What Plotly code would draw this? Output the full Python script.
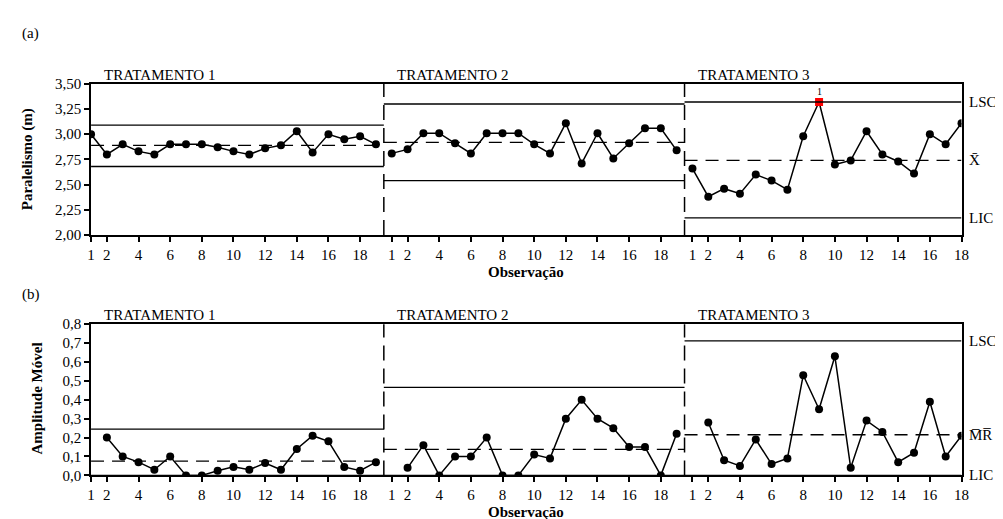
import plotly.graph_objects as go

# ---------------- data ----------------
treatments = ["TRATAMENTO 1", "TRATAMENTO 2", "TRATAMENTO 3"]
t1_par = [3.00, 2.80, 2.90, 2.83, 2.80, 2.90, 2.90, 2.90, 2.87, 2.83, 2.80, 2.86, 2.89, 3.03, 2.82, 3.00, 2.95, 2.98, 2.90]
t2_par = [2.81, 2.85, 3.01, 3.01, 2.91, 2.81, 3.01, 3.01, 3.01, 2.90, 2.81, 3.11, 2.71, 3.01, 2.76, 2.91, 3.06, 3.06, 2.84]
t3_par = [2.66, 2.38, 2.46, 2.41, 2.60, 2.54, 2.45, 2.98, 3.32, 2.70, 2.74, 3.03, 2.80, 2.73, 2.61, 3.00, 2.90, 3.11]

t1_mr = [0.20, 0.10, 0.07, 0.03, 0.10, 0.00, 0.00, 0.025, 0.045, 0.03, 0.065, 0.03, 0.14, 0.21, 0.18, 0.045, 0.025, 0.07]
t2_mr = [0.04, 0.16, 0.00, 0.10, 0.10, 0.20, 0.00, 0.00, 0.11, 0.09, 0.30, 0.40, 0.30, 0.25, 0.15, 0.15, 0.00, 0.22]
t3_mr = [0.28, 0.08, 0.05, 0.19, 0.06, 0.09, 0.53, 0.35, 0.63, 0.04, 0.29, 0.23, 0.07, 0.12, 0.39, 0.10, 0.21]

par_lsc = [3.09, 3.30, 3.32]
par_cl = [2.89, 2.92, 2.74]
par_lic = [2.68, 2.54, 2.17]
mr_lsc = [0.245, 0.466, 0.712]
mr_cl = [0.075, 0.138, 0.215]
mr_lic = [0.0, 0.0, 0.0]

obs_ticks = [1, 2, 4, 6, 8, 10, 12, 14, 16, 18]
par_yticks = [2.00, 2.25, 2.50, 2.75, 3.00, 3.25, 3.50]
mr_yticks = [0.0, 0.1, 0.2, 0.3, 0.4, 0.5, 0.6, 0.7, 0.8]
out_of_control = (2, 9)  # treatment index, observation

# ---------------- layout helpers ----------------
W, H = 1003, 519
FONT = "Liberation Serif"
par_series = [t1_par, t2_par, t3_par]
mr_series = [t1_mr, t2_mr, t3_mr]
counts = [len(s) for s in par_series]
offsets = [0, counts[0], counts[0] + counts[1]]
seg_start = [1] + [offsets[i] + 0.5 for i in (1, 2)]
seg_end = [offsets[1] + 0.5, offsets[2] + 0.5, offsets[2] + counts[2]]
xmax = offsets[2] + counts[2]

def px_x(p):
    return p / W

def px_y(p):
    return 1 - p / H

fig = go.Figure()

for k in range(3):
    xs = [offsets[k] + i for i in range(1, counts[k] + 1)]
    sym = ["circle"] * counts[k]
    col = ["black"] * counts[k]
    if k == out_of_control[0]:
        sym[out_of_control[1] - 1] = "square"
        col[out_of_control[1] - 1] = "#ff0000"
    fig.add_trace(go.Scatter(
        x=xs, y=par_series[k], mode="lines+markers", xaxis="x", yaxis="y",
        line=dict(color="black", width=1.5),
        marker=dict(symbol=sym, color=col, size=8, line=dict(width=0)),
        showlegend=False, hoverinfo="skip"))
    xs_mr = xs[1:]
    fig.add_trace(go.Scatter(
        x=xs_mr, y=mr_series[k], mode="lines+markers", xaxis="x2", yaxis="y2",
        line=dict(color="black", width=1.5),
        marker=dict(symbol="circle", color="black", size=8, line=dict(width=0)),
        showlegend=False, hoverinfo="skip"))

shapes = []
for (xr, yr, lsc, cl, lic) in [("x", "y", par_lsc, par_cl, par_lic), ("x2", "y2", mr_lsc, mr_cl, mr_lic)]:
    for k in range(3):
        for val, dash in [(lsc[k], "solid"), (lic[k], "solid"), (cl[k], "13px,8px")]:
            shapes.append(dict(type="line", xref=xr, yref=yr, x0=seg_start[k], x1=seg_end[k],
                               y0=val, y1=val, line=dict(color="black", width=1.3, dash=dash)))
    for k in (1, 2):
        shapes.append(dict(type="line", xref=xr, yref=yr + " domain", x0=seg_start[k], x1=seg_start[k],
                           y0=0, y1=1, line=dict(color="black", width=1.5, dash="15px,8px")))

annotations = []
# panel letters
annotations.append(dict(text="(a)", x=px_x(8), y=px_y(18), xref="paper", yref="paper",
                        xanchor="left", yanchor="middle", showarrow=False, font=dict(size=15)))
annotations.append(dict(text="(b)", x=px_x(8), y=px_y(287), xref="paper", yref="paper",
                        xanchor="left", yanchor="middle", showarrow=False, font=dict(size=15)))
# treatment labels
for xr, ypix in [("x", 61), ("x2", 308)]:
    for k in range(3):
        annotations.append(dict(text=treatments[k], x=seg_start[k], xref=xr, xshift=11,
                                y=px_y(ypix), yref="paper", xanchor="left", yanchor="middle",
                                showarrow=False, font=dict(size=15)))
# y titles
annotations.append(dict(text="<b>Paralelismo (m)</b>", x=px_x(16), y=px_y(148), xref="paper", yref="paper",
                        textangle=-90, showarrow=False, xanchor="center", yanchor="middle", font=dict(size=15)))
annotations.append(dict(text="<b>Amplitude Móvel</b>", x=px_x(25), y=px_y(395), xref="paper", yref="paper",
                        textangle=-90, showarrow=False, xanchor="center", yanchor="middle", font=dict(size=15)))
# x titles
for ypix in (264, 512):
    annotations.append(dict(text="<b>Observação</b>", x=px_x(520), y=px_y(ypix), xref="paper", yref="paper",
                            showarrow=False, xanchor="center", yanchor="middle", font=dict(size=15)))
# right labels
xr_lab = px_x(967)
for txt, val in [("LSC", par_lsc[2]), ("X̄", par_cl[2]), ("LIC", par_lic[2])]:
    annotations.append(dict(text=txt, x=xr_lab, xref="paper", y=val, yref="y", xanchor="left",
                            yanchor="middle", showarrow=False, font=dict(size=15)))
for txt, val in [("LSC", mr_lsc[2]), ("M̅R̅", mr_cl[2]), ("LIC", mr_lic[2])]:
    annotations.append(dict(text=txt, x=xr_lab, xref="paper", y=val, yref="y2", xanchor="left",
                            yanchor="middle", showarrow=False, font=dict(size=15)))
# out-of-control marker label
k_oc, i_oc = out_of_control
annotations.append(dict(text="1", x=offsets[k_oc] + i_oc, xref="x", y=par_series[k_oc][i_oc - 1], yref="y",
                        yshift=10, showarrow=False, font=dict(size=10), yanchor="middle"))

tickvals = []
ticktext = []
for k in range(3):
    for t in obs_ticks:
        if t <= counts[k]:
            tickvals.append(offsets[k] + t)
            ticktext.append(str(t))

xdom = [px_x(80), px_x(961)]
axis_common = dict(showline=True, linecolor="black", linewidth=1.5, mirror=True, showgrid=False,
                   zeroline=False, ticks="outside", tickcolor="black", tickwidth=1.5,
                   tickfont=dict(size=15, family=FONT))

fig.update_layout(
    width=W, height=H, margin=dict(l=0, r=0, t=0, b=0),
    paper_bgcolor="white", plot_bgcolor="white",
    font=dict(family=FONT, color="black"),
    xaxis=dict(domain=xdom, range=[1, xmax], anchor="y", tickvals=tickvals, ticktext=ticktext,
               ticklen=5, **axis_common),
    yaxis=dict(domain=[px_y(226), px_y(70)], range=[2.0, 3.5], anchor="x", tickvals=par_yticks,
               ticktext=[f"{v:.2f}".replace(".", ",") for v in par_yticks], ticklen=5, **axis_common),
    xaxis2=dict(domain=xdom, range=[1, xmax], anchor="y2", tickvals=tickvals, ticktext=ticktext,
                ticklen=5, **axis_common),
    yaxis2=dict(domain=[px_y(474), px_y(318)], range=[0, 0.8], anchor="x2", tickvals=mr_yticks,
                ticktext=[f"{v:.1f}".replace(".", ",") for v in mr_yticks], ticklen=5, **axis_common),
    shapes=shapes, annotations=annotations,
)

fig.write_html("out.html")
